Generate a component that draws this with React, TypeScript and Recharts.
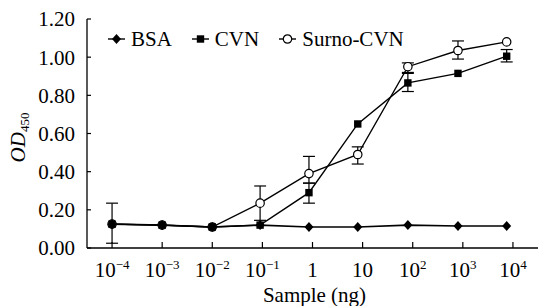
import { LineChart, Line, XAxis, YAxis, ErrorBar, Legend } from "recharts";

// sample amount (ng) for each point
const samples = [0.0001, 0.001, 0.01, 0.09, 0.85, 8, 80, 800, 7500];
const bsa = [0.125, 0.12, 0.11, 0.12, 0.11, 0.11, 0.12, 0.115, 0.115];
const cvn = [0.125, 0.12, 0.11, 0.12, 0.29, 0.65, 0.865, 0.915, 1.005];
const cvnErr = [[0.1, 0.11], null, null, null, [0.055, 0.05], null, [0.045, 0.05], null, [0.03, 0.035]];
const surno = [0.125, 0.12, 0.11, 0.235, 0.39, 0.49, 0.95, 1.035, 1.08];
const surnoErr = [null, null, null, [0.09, 0.09], [0.05, 0.09], [0.05, 0.04], [0.03, 0.02], [0.045, 0.05], null];

const xTicks = [-4, -3.5, -3, -2.5, -2, -1.5, -1, -0.5, 0, 0.5, 1, 1.5, 2, 2.5, 3, 3.5, 4].map((e) => Math.pow(10, e));
const yTicks = [0, 0.2, 0.4, 0.6, 0.8, 1.0, 1.2];

const data = samples.map((x, i) => ({
  x,
  bsa: bsa[i],
  cvn: cvn[i],
  cvnErr: cvnErr[i],
  surno: surno[i],
  surnoErr: surnoErr[i],
}));

const FONT = "'Liberation Serif', 'Times New Roman', serif";

const diamond = (cx: number, cy: number, key?: any) => (
  <path key={key} d={`M${cx},${cy - 5}L${cx + 4.5},${cy}L${cx},${cy + 5}L${cx - 4.5},${cy}Z`} fill="#000" />
);
const square = (cx: number, cy: number, key?: any) => (
  <rect key={key} x={cx - 3.7} y={cy - 3.7} width={7.4} height={7.4} fill="#000" />
);
const circle = (cx: number, cy: number, key?: any) => (
  <circle key={key} cx={cx} cy={cy} r={4.2} fill="#fff" stroke="#000" strokeWidth={1.2} />
);

const XTick = ({ x, y, payload }: any) => {
  const e = Math.round(Math.log10(payload.value) * 2) / 2;
  const major = Number.isInteger(e);
  let label: any = null;
  if (major) {
    if (e === 0) label = "1";
    else if (e === 1) label = "10";
    else
      label = (
        <>
          <tspan>10</tspan>
          <tspan dy={-8} fontSize={13}>{e < 0 ? `\u2212${-e}` : `${e}`}</tspan>
        </>
      );
  }
  return (
    <g>
      <line x1={x} x2={x} y1={y} y2={y - 6} stroke="#000" strokeWidth={1.2} />
      {major && (
        <text x={x} y={y + 29} textAnchor="middle" fontFamily={FONT} fontSize={21} fill="#000">
          {label}
        </text>
      )}
    </g>
  );
};

const YTick = ({ x, y, payload }: any) => (
  <g>
    <line x1={x} x2={x + 4} y1={y} y2={y} stroke="#000" strokeWidth={1.2} />
    <text x={x - 12} y={y} dy="0.35em" textAnchor="end" fontFamily={FONT} fontSize={21} fill="#000">
      {payload.value.toFixed(2)}
    </text>
  </g>
);

const legendItems = [
  { name: "BSA", mark: diamond },
  { name: "CVN", mark: square },
  { name: "Surno-CVN", mark: circle },
];

const renderLegend = () => (
  <div style={{ display: "flex", alignItems: "center", fontFamily: FONT, fontSize: 21, lineHeight: "24px", color: "#000" }}>
    {legendItems.map((it) => (
      <span key={it.name} style={{ display: "flex", alignItems: "center", marginRight: 20 }}>
        <svg width={17} height={12}>
          <line x1={0} x2={17} y1={6} y2={6} stroke="#000" strokeWidth={1.4} />
          {it.mark(8.5, 6)}
        </svg>
        <span style={{ marginLeft: 6 }}>{it.name}</span>
      </span>
    ))}
  </div>
);

export default function App() {
  return (
    <div style={{ position: "absolute", left: 0, top: 0, width: 538, height: 306, background: "#fff" }}>
      <LineChart width={538} height={306} data={data} margin={{ top: 19, right: 0, bottom: 0, left: 0 }}>
        <XAxis
          dataKey="x"
          type="number"
          scale="log"
          domain={[Math.pow(10, -4.5), Math.pow(10, 4.5)]}
          ticks={xTicks}
          allowDataOverflow
          height={58}
          tickSize={0}
          tickMargin={0}
          tickLine={false}
          tick={<XTick />}
          axisLine={{ stroke: "#000", strokeWidth: 1.3 }}
          label={{
            content: ({ viewBox }: any) => (
              <text x={viewBox.x + viewBox.width / 2 + 2} y={viewBox.y + 54} textAnchor="middle" fontFamily={FONT} fontSize={21} fill="#000">
                Sample (ng)
              </text>
            ),
          }}
        />
        <YAxis
          type="number"
          domain={[0, 1.2]}
          ticks={yTicks}
          width={87}
          tickSize={0}
          tickMargin={0}
          tickLine={false}
          tick={<YTick />}
          axisLine={{ stroke: "#000", strokeWidth: 1.3 }}
          label={{
            content: ({ viewBox }: any) => (
              <text
                transform={`translate(${viewBox.x + 25}, ${viewBox.y + viewBox.height / 2 + 4}) rotate(-90)`}
                textAnchor="middle"
                fontFamily={FONT}
                fontSize={21}
                fill="#000"
              >
                <tspan fontStyle="italic">OD</tspan>
                <tspan dy={4} fontSize={13}>450</tspan>
              </text>
            ),
          }}
        />
        <Legend
          layout="horizontal"
          verticalAlign="middle"
          align="center"
          content={renderLegend}
          wrapperStyle={{ top: 27, left: 108, width: 360 }}
        />
        <Line
          dataKey="surno"
          stroke="#000"
          strokeWidth={1.4}
          isAnimationActive={false}
          dot={(p: any) => circle(p.cx, p.cy, p.key ?? `s${p.index}`)}
          activeDot={false}
        >
          <ErrorBar dataKey="surnoErr" direction="y" width={6} stroke="#000" strokeWidth={1.2} />
        </Line>
        <Line
          dataKey="cvn"
          stroke="#000"
          strokeWidth={1.4}
          isAnimationActive={false}
          dot={(p: any) => square(p.cx, p.cy, p.key ?? `c${p.index}`)}
          activeDot={false}
        >
          <ErrorBar dataKey="cvnErr" direction="y" width={6} stroke="#000" strokeWidth={1.2} />
        </Line>
        <Line
          dataKey="bsa"
          stroke="#000"
          strokeWidth={1.6}
          isAnimationActive={false}
          dot={(p: any) => diamond(p.cx, p.cy, p.key ?? `b${p.index}`)}
          activeDot={false}
        />
      </LineChart>
    </div>
  );
}
